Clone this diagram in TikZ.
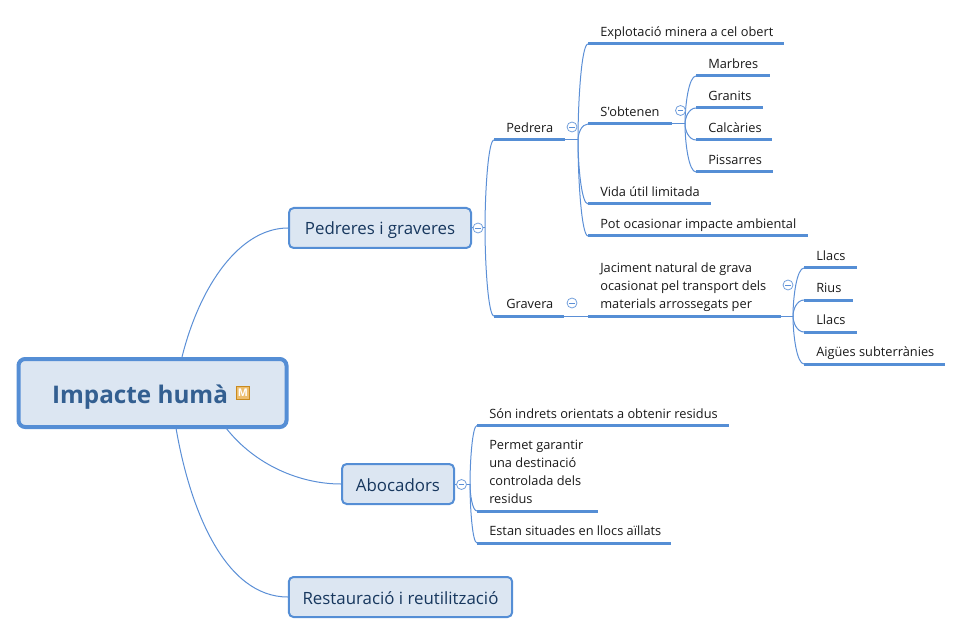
\documentclass[tikz,border=0pt]{standalone}
\usepackage{fontspec}
\setmainfont{Open Sans}
\newfontfamily\plainfont[Ligatures=ResetAll]{Open Sans}
\usetikzlibrary{calc}
\definecolor{linkblue}{HTML}{5B8FD6}
\definecolor{thickblue}{HTML}{558ED5}
\definecolor{boxfill}{HTML}{DCE6F2}
\definecolor{boxtext}{HTML}{17375E}
\definecolor{roottext}{HTML}{335F91}
\definecolor{iconline}{HTML}{C98A1E}
\definecolor{iconfill}{HTML}{EDBE6E}
\tikzset{
  topictext/.style={inner sep=0pt,anchor=south west,align=left,font=\fontsize{9.6pt}{13.5pt}\selectfont,text=black!90},
  under/.style={draw=thickblue,line width=2.25pt},
  link/.style={draw=linkblue,line width=0.75pt},
  subtopic/.style={draw=thickblue,line width=1.5pt,fill=boxfill,rounded corners=3.5pt,text=boxtext,
     font=\fontsize{12.65pt}{15pt}\selectfont,inner sep=0pt,minimum height=30pt,text height=12pt,text depth=1.5pt},
  roottopic/.style={draw=thickblue,line width=3pt,fill=boxfill,rounded corners=5pt,inner sep=0pt},
  collapse/.style={circle,draw=linkblue!85,fill=white,line width=0.6pt,minimum size=7.5pt,inner sep=0pt,
     path picture={\draw[linkblue,line width=0.5pt] ([xshift=-2.2pt]path picture bounding box.center) -- ([xshift=2.2pt]path picture bounding box.center);}},
  icon/.style={draw=iconline,fill=iconfill,line width=0.75pt,minimum size=9.5pt,inner sep=0pt,text=white,
     font=\fontsize{8pt}{8pt}\selectfont\bfseries},
}
% name, x start, x end, y of rule, text x, text
\newcommand{\topicline}[6]{%
  \coordinate (#1-a) at (#2,#4);
  \coordinate (#1-b) at (#3,#4);
  \draw[under] (#1-a) -- (#1-b);
  \node[topictext] (#1) at (#5,#4-3) {#6\rule[-3pt]{0pt}{1pt}};
}
\newcommand{\branch}[2]{%
  \draw[link] (#1) .. controls ($(#1)!.4!(#1 |- #2)$) and ($(#1 |- #2)!.35!(#2)$) .. (#2);
}
\begin{document}
\begin{tikzpicture}[x=0.75pt,y=-0.75pt]
\useasboundingbox (0,0) rectangle (962,634);
% central + main topics
\node[roottopic,minimum width=201pt,minimum height=51pt] (root) at (152.5,393) {};
\node[subtopic,minimum width=136.5pt] (ped) at (380,228) {Pedreres i graveres};
\node[subtopic,minimum width=84pt] (abo) at (398,484) {Abocadors};
\node[subtopic,minimum width=167.5pt] (res) at (400.5,597) {Restauració i reutilització};
\node[anchor=base,text=roottext,inner sep=0pt,font=\fontsize{18.2pt}{20pt}\selectfont\bfseries] (roottitle) at (140,403) {Impacte humà};
\node[icon] (rooticon) at (243,393) {M};
% root links
\coordinate (r1) at (182,357);
\coordinate (r2) at (226,428);
\coordinate (r3) at (176,428);
\draw[link] (r1) .. controls (200,285) and (240,228) .. (ped.west);
\draw[link] (r2) .. controls (255,465) and (300,484) .. (abo.west);
\draw[link] (r3) .. controls (190,510) and (225,597) .. (res.west);
% hubs
\coordinate (hped) at (485,228);
\coordinate (hquarry) at (578,140);
\coordinate (hobt) at (685,124);
\coordinate (hjac) at (793,316);
\coordinate (habo) at (470,484);
% rules and texts
\topicline{pedrera}{494}{565}{140}{506}{Pedrera}
\topicline{gravera}{494}{564}{316}{506}{Gravera}
\topicline{expl}{588}{784}{44}{600}{Explotació minera a cel obert}
\topicline{sobt}{588}{672}{124}{600}{{\plainfont S'obtenen}}
\topicline{vida}{588}{711}{204}{600}{Vida útil limitada}
\topicline{pot}{588}{808}{236}{600}{Pot ocasionar impacte ambiental}
\topicline{marb}{696}{770}{76}{708}{Marbres}
\topicline{gran}{696}{763}{108}{708}{Granits}
\topicline{calc}{696}{772}{140}{708}{Calcàries}
\topicline{piss}{696}{773}{172}{708}{Pissarres}
\topicline{jac}{588}{781}{316}{600}{Jaciment natural de grava\\ocasionat pel transport dels\\materials arrossegats per}
\topicline{lla}{804}{857}{268}{816}{Llacs}
\topicline{riu}{804}{853}{300}{816}{Rius}
\topicline{llb}{804}{857}{332}{816}{Llacs}
\topicline{aig}{804}{945}{364}{816}{Aigües subterrànies}
\topicline{son}{477}{729}{425.5}{489}{Són indrets orientats a obtenir residus}
\topicline{per}{477}{598}{511}{489}{Permet garantir\\una destinació\\controlada dels\\residus}
\topicline{est}{477}{671}{543}{489}{Estan situades en llocs aïllats}
% links
\draw[link] (ped.east) -- (hped);
\branch{hped}{pedrera-a}
\branch{hped}{gravera-a}
\draw[link] (pedrera-b) -- (hquarry);
\branch{hquarry}{expl-a}
\branch{hquarry}{sobt-a}
\branch{hquarry}{vida-a}
\branch{hquarry}{pot-a}
\draw[link] (sobt-b) -- (hobt);
\branch{hobt}{marb-a}
\branch{hobt}{gran-a}
\branch{hobt}{calc-a}
\branch{hobt}{piss-a}
\draw[link] (gravera-b) -- (jac-a);
\draw[link] (jac-b) -- (hjac);
\branch{hjac}{lla-a}
\branch{hjac}{riu-a}
\branch{hjac}{llb-a}
\branch{hjac}{aig-a}
\draw[link] (abo.east) -- (habo);
\branch{habo}{son-a}
\branch{habo}{per-a}
\branch{habo}{est-a}
% collapse marks
\node[collapse] (c1) at (478,228) {};
\node[collapse] (c2) at (572,127) {};
\node[collapse] (c3) at (680.5,110.5) {};
\node[collapse] (c4) at (572,303) {};
\node[collapse] (c5) at (788,285) {};
\node[collapse] (c6) at (461.5,484.5) {};
\end{tikzpicture}
\end{document}
